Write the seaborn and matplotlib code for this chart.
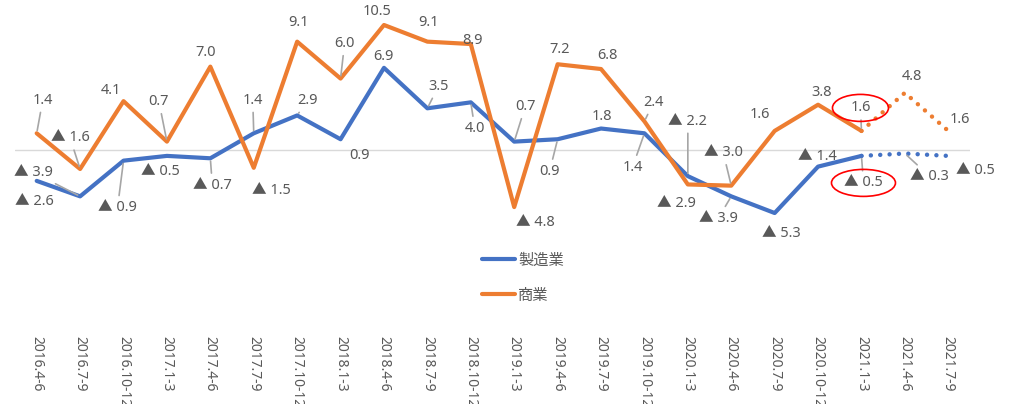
import numpy as np
import pandas as pd
import matplotlib
matplotlib.use("Agg")
import matplotlib.pyplot as plt
from matplotlib.patches import Ellipse
import seaborn as sns

sns.set_style("white")
plt.rcParams['font.family'] = ['Noto Sans', 'Noto Sans CJK JP', 'DejaVu Sans']

# quarters
quarters = ["2016.4-6", "2016.7-9", "2016.10-12", "2017.1-3", "2017.4-6", "2017.7-9",
            "2017.10-12", "2018.1-3", "2018.4-6", "2018.7-9", "2018.10-12", "2019.1-3",
            "2019.4-6", "2019.7-9", "2019.10-12", "2020.1-3", "2020.4-6", "2020.7-9",
            "2020.10-12", "2021.1-3", "2021.4-6", "2021.7-9"]

# 製造業 / 商業 (negative = ▲)
seizo = [-2.6, -3.9, -0.9, -0.5, -0.7, 1.4, 2.9, 0.9, 6.9, 3.5, 4.0, 0.7,
         0.9, 1.8, 1.4, -2.2, -3.9, -5.3, -1.4, -0.5, -0.3, -0.5]
shogyo = [1.4, -1.6, 4.1, 0.7, 7.0, -1.5, 9.1, 6.0, 10.5, 9.1, 8.9, -4.8,
          7.2, 6.8, 2.4, -2.9, -3.0, 1.6, 3.8, 1.6, 4.8, 1.6]

# last actual quarter; after it the values are forecasts
n_actual = 20

# label offsets in pixels (dx right, dy down) and whether a leader line is drawn
seizo_off = [(-2, 21), (-47, -24), (-6, 47), (-7, 16), (2, 27), (-1, -33), (10, -15),
             (19, 16), (-1, -11), (11, -22), (4, 26), (11, -35), (-8, 32), (1, -12),
             (-12, 34), (0, -55), (-13, 22), (7, 20), (-1, -10), (2, 27), (25, 23), (27, 15)]
seizo_lead = [0, 1, 1, 0, 1, 1, 1, 0, 0, 1, 1, 1, 1, 0, 1, 1, 1, 0, 0, 1, 1, 0]
shogyo_off = [(6, -33), (-10, -31), (-13, -11), (-8, -40), (-5, -14), (18, 23), (1, -19),
              (4, -35), (-7, -13), (1, -19), (2, -4), (21, 15), (2, -15), (6, -14),
              (9, -19), (-11, 19), (-8, -33), (-15, -16), (4, -12), (-1, -23), (7, -16), (12, -11)]
shogyo_lead = [1, 1, 0, 1, 0, 0, 0, 1, 0, 0, 0, 0, 0, 0, 1, 0, 1, 0, 0, 1, 0, 0]

BLUE = "#4472C4"
ORANGE = "#ED7D31"
GREY = "#595959"

idx = np.arange(len(quarters))
df = pd.DataFrame({
    "x": np.concatenate([idx, idx]),
    "value": seizo + shogyo,
    "sector": ["製造業"] * len(idx) + ["商業"] * len(idx),
})
actual = df[df["x"] < n_actual]
forecast = df[df["x"] >= n_actual - 1]

fig = plt.figure(figsize=(10.16, 4.04), dpi=100)
ax = fig.add_axes([15 / 1016, 74 / 404, 955 / 1016, 330 / 404])

ax.axhline(0, color="#D9D9D9", lw=1, zorder=1)

sns.lineplot(data=actual, x="x", y="value", hue="sector",
             palette={"製造業": BLUE, "商業": ORANGE}, lw=3,
             ax=ax, zorder=3, legend=True)
sns.lineplot(data=forecast, x="x", y="value", hue="sector",
             palette={"製造業": BLUE, "商業": ORANGE}, lw=3.2,
             ax=ax, zorder=3, legend=False,
             linestyle=(0, (0.01, 2.1)), dash_capstyle="round")

def fmt(v):
    return f"{v:.1f}" if v >= 0 else f"▲ {abs(v):.1f}"

for series, offs, leads in [(seizo, seizo_off, seizo_lead), (shogyo, shogyo_off, shogyo_lead)]:
    for i, v in enumerate(series):
        dx, dy = offs[i]
        ap = dict(arrowstyle="-", color="#A6A6A6", lw=1.2, shrinkA=1, shrinkB=2) if leads[i] else None
        ax.annotate(fmt(v), xy=(i, v), xytext=(dx, -dy), textcoords="offset pixels",
                    ha="center", va="center", fontsize=10.5, color=GREY,
                    arrowprops=ap, zorder=5)

# red circles around the latest actual values
px_x = 955 / 22
px_y = 330 / 27.73
for v, (dx, dy), w in [(shogyo[n_actual - 1], shogyo_off[n_actual - 1], 56),
                       (seizo[n_actual - 1], seizo_off[n_actual - 1], 64)]:
    ax.add_patch(Ellipse((n_actual - 1 + dx / px_x, v - dy / px_y), w / px_x, 27 / px_y,
                         fill=False, edgecolor="red", lw=1.2, zorder=6))

ax.set_xlim(-0.5, 21.5)
ax.set_ylim(-15.13, 12.6)
ax.set_xticks(idx)
ax.set_xticklabels(quarters, rotation=-90, fontsize=10, color=GREY, va="top")
ax.tick_params(axis="x", length=0, pad=4)
ax.set_yticks([])
ax.set_xlabel("")
ax.set_ylabel("")
for s in ax.spines.values():
    s.set_visible(False)

leg = ax.legend(loc="upper left", bbox_to_anchor=(468 / 1016, 1 - 240 / 404),
                bbox_transform=fig.transFigure, frameon=False, fontsize=11,
                handlelength=2.2, handletextpad=0.2, labelspacing=1.3)
for t in leg.get_texts():
    t.set_color(GREY)

fig.savefig("out.png", dpi=100)
